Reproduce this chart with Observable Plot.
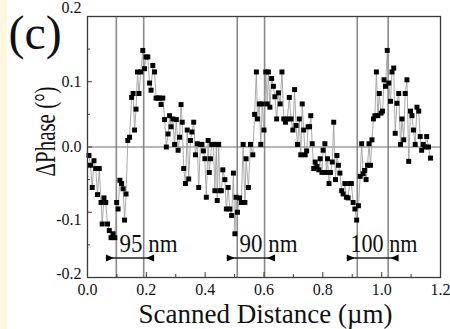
<!DOCTYPE html>
<html><head><meta charset="utf-8">
<script src="https://cdn.jsdelivr.net/npm/d3@7"></script>
<script src="https://cdn.jsdelivr.net/npm/@observablehq/plot@0.6"></script>
<style>
html,body{margin:0;padding:0;}
body{width:450px;height:329px;overflow:hidden;background:linear-gradient(to right,#FFF8E1 0,#FFF8E1 7px,#ffffff 7px);}
svg, svg text{font-family:"Liberation Serif",serif !important;}
</style></head><body><div id="chart"></div><script>
// Scanned distance (µm)
const distance = [
0.005,0.010,0.016,0.022,0.028,0.034,0.040,0.046,0.050,0.056,0.062,0.068,0.074,0.080,0.087,0.093,0.099,0.104,0.110,0.116,
0.121,0.126,0.131,0.137,0.143,0.150,0.155,0.160,0.165,0.170,0.175,0.181,0.188,0.194,0.199,0.205,0.211,0.216,0.222,0.228,
0.233,0.239,0.245,0.250,0.256,0.262,0.268,0.274,0.279,0.284,0.290,0.296,0.302,0.308,0.313,0.318,0.322,0.327,0.333,0.339,
0.344,0.350,0.355,0.361,0.367,0.373,0.378,
0.384,0.389,0.394,0.399,0.404,0.410,0.414,0.418,0.422,0.428,0.433,0.438,0.441,0.446,0.450,0.455,0.460,0.467,0.472,0.478,
0.484,0.490,0.496,0.501,0.505,0.510,0.517,0.523,0.529,0.535,0.539,0.547,0.554,0.562,0.568,0.574,0.578,0.584,0.589,0.594,
0.600,0.606,0.611,0.615,0.620,0.626,0.632,0.637,0.643,0.649,0.655,0.661,0.667,0.673,0.679,0.686,0.692,0.698,0.704,0.709,
0.714,0.720,0.725,0.730,0.735,0.740,0.745,0.750,0.755,0.759,0.764,0.769,0.774,0.780,0.786,
0.791,0.797,0.801,0.807,0.812,0.816,0.821,0.826,0.832,0.837,0.843,0.848,0.853,0.858,0.864,0.869,0.875,0.880,0.886,0.891,
0.897,0.903,0.909,0.915,0.921,0.927,0.932,0.937,0.942,0.947,0.952,0.957,0.962,0.967,0.972,0.977,0.982,0.987,0.992,0.998,
1.003,1.008,1.013,1.019,1.024,1.030,1.035,1.041,1.046,1.052,1.058,1.064,1.069,1.075,1.080,1.086,1.092,1.098,1.103,1.108,
1.114,1.120,1.126,1.131,1.136,1.141,1.147,1.153,1.159,1.166
];
// ΔPhase (°)
const phase = [
-0.013,-0.028,-0.062,-0.021,-0.033,-0.073,-0.033,-0.085,-0.118,-0.078,-0.085,-0.118,-0.128,-0.139,-0.133,-0.139,-0.085,-0.095,-0.051,-0.056,
-0.064,-0.112,-0.072,0.010,0.015,0.076,0.082,0.026,0.058,0.115,0.082,0.115,0.148,0.120,0.138,0.138,0.098,0.087,0.125,0.115,
0.075,0.075,0.075,0.065,0.075,0.042,0.000,0.020,0.048,0.031,0.043,0.004,0.042,-0.005,0.015,0.065,0.038,-0.033,-0.056,0.026,
-0.049,0.010,0.023,0.038,-0.012,0.005,-0.062,
0.004,0.004,-0.006,-0.018,-0.077,0.010,-0.039,-0.018,0.004,0.004,-0.067,0.004,-0.082,0.004,-0.067,-0.067,-0.035,-0.050,-0.095,-0.062,
-0.095,-0.105,-0.040,-0.133,-0.077,-0.100,-0.078,-0.085,0.004,-0.085,-0.018,-0.062,0.004,-0.012,0.050,0.115,0.043,0.066,0.004,0.066,
0.026,0.115,0.066,0.115,0.061,0.105,0.093,0.077,0.043,0.083,0.066,0.115,0.043,0.038,0.043,0.076,0.043,0.026,0.088,0.033,
0.004,0.043,-0.012,0.066,0.026,-0.012,-0.006,0.031,0.031,0.048,0.005,-0.033,-0.023,-0.030,-0.035,
-0.018,-0.039,-0.005,0.005,-0.039,-0.018,-0.056,-0.039,-0.023,0.038,-0.050,-0.013,-0.028,-0.040,-0.067,-0.072,-0.056,-0.077,-0.078,-0.056,
-0.056,-0.085,-0.095,-0.112,-0.090,-0.045,0.005,-0.041,-0.036,-0.050,-0.028,0.005,-0.028,0.011,0.043,0.048,0.115,0.048,0.082,0.052,
0.055,0.103,0.093,0.148,0.098,0.070,0.115,0.121,0.021,0.067,0.082,0.004,0.043,0.011,0.082,0.103,-0.022,0.055,0.048,0.026,
0.004,0.061,0.055,0.016,-0.005,0.004,0.000,0.016,0.000,-0.017
];
// Domain-wall widths marked on the chart
const gapLeft = [0.098, 0.509, 0.917];
const gapRight = [0.191, 0.602, 1.022];
const gapLabels = ["95 nm", "90 nm", "100 nm"];
const labelStart = [0.109, 0.517, 0.894];
const arrowLevel = -0.170;
const labelLevel = -0.161;

// Tick values
const xMajor = [0, 0.2, 0.4, 0.6, 0.8, 1.0, 1.2];
const xMinor = [0.1, 0.3, 0.5, 0.7, 0.9, 1.1];
const yMajor = [-0.2, -0.1, 0, 0.1, 0.2];
const yMinor = [-0.15, -0.05, 0.05, 0.15];

const data = distance.map((x, i) => ({x, y: phase[i]}));
const gaps = gapLabels.map((label, i) => ({label, left: gapLeft[i], right: gapRight[i], textX: labelStart[i]}));

const triRight = {draw(ctx, size) { const k = Math.sqrt(size / Math.PI); ctx.moveTo(0, 0); ctx.lineTo(-2.4 * k, -1.05 * k); ctx.lineTo(-2.4 * k, 1.05 * k); ctx.closePath(); }};
const triLeft = {draw(ctx, size) { const k = Math.sqrt(size / Math.PI); ctx.moveTo(0, 0); ctx.lineTo(2.4 * k, -1.05 * k); ctx.lineTo(2.4 * k, 1.05 * k); ctx.closePath(); }};
const fmt = d => d.toFixed(1);
const serif = "Liberation Serif";
const axisOpts = {tickSize: 0, tickPadding: 6, tickFormat: fmt, label: null, fontSize: 16, fontFamily: serif};

const chart = Plot.plot({
  width: 450, height: 329,
  marginLeft: 87, marginRight: 10, marginTop: 16, marginBottom: 52,
  style: {fontFamily: serif, fontSize: "16px", background: "transparent", color: "#111"},
  x: {domain: [0, 1.2]},
  y: {domain: [-0.2, 0.2]},
  marks: [
    Plot.ruleX([...gapLeft, ...gapRight], {stroke: "#8a8a8a", strokeWidth: 1.6}),
    Plot.ruleY([0], {stroke: "#707070", strokeWidth: 1.2}),
    Plot.line(data, {x: "x", y: "y", stroke: "#a0a0a0", strokeWidth: 0.9}),
    Plot.dot(data, {x: "x", y: "y", symbol: "square", fill: "#000", r: 2.8}),
    Plot.frame({stroke: "#3a3a3a", strokeWidth: 1.3}),
    Plot.tickX(xMajor, {x: d => d, insetTop: 256, stroke: "#3a3a3a"}),
    Plot.tickX(xMinor, {x: d => d, insetTop: 258, stroke: "#3a3a3a"}),
    Plot.tickY(yMajor, {y: d => d, insetRight: 348, stroke: "#3a3a3a"}),
    Plot.tickY(yMinor, {y: d => d, insetRight: 350, stroke: "#3a3a3a"}),
    Plot.axisX({...axisOpts, ticks: xMajor, tickPadding: 6}),
    Plot.axisY({...axisOpts, ticks: [0, 0.1]}),
    Plot.axisY({...axisOpts, ticks: [-0.1], dy: 8}),
    Plot.axisY({...axisOpts, ticks: [0.2], dy: -9}),
    Plot.axisY({...axisOpts, ticks: [-0.2], dy: -4}),
    Plot.ruleY(gaps, {y: arrowLevel, x1: "left", x2: "right", insetLeft: -10, insetRight: -10, stroke: "#222", strokeWidth: 1.4}),
    Plot.dot(gaps, {x: "left", y: arrowLevel, symbol: triRight, r: 3.3, fill: "#000", dx: -2.5}),
    Plot.dot(gaps, {x: "right", y: arrowLevel, symbol: triLeft, r: 3.3, fill: "#000", dx: 2.5}),
    Plot.text(gaps, {x: "textX", y: labelLevel, text: "label", textAnchor: "start", lineAnchor: "bottom", fontSize: 25, fontFamily: serif, fill: "#111"}),
    Plot.text(["(c)"], {frameAnchor: "top-left", text: d => d, textAnchor: "start", lineAnchor: "bottom", dx: -79, dy: 32, fontSize: 48, fontFamily: serif, fill: "#111"}),
    Plot.text(["ΔPhase (°)"], {frameAnchor: "left", text: d => d, rotate: -90, textAnchor: "middle", lineAnchor: "bottom", dx: -33, dy: -15.5, fontSize: 30, fontFamily: serif, fill: "#111"}),
    Plot.text(["Scanned Distance (µm)"], {frameAnchor: "bottom", text: d => d, textAnchor: "middle", lineAnchor: "bottom", dx: 1.5, dy: 45, fontSize: 28, fontFamily: serif, fill: "#111"})
  ]
});
document.getElementById("chart").appendChild(chart);
const lengths = {"95 nm": 58, "90 nm": 58, "100 nm": 67, "Scanned Distance (µm)": 254, "ΔPhase (°)": 90};
chart.querySelectorAll("text").forEach(t => {
  const L = lengths[t.textContent];
  if (L) { t.setAttribute("textLength", L); t.setAttribute("lengthAdjust", "spacingAndGlyphs"); }
});
</script></body></html>
